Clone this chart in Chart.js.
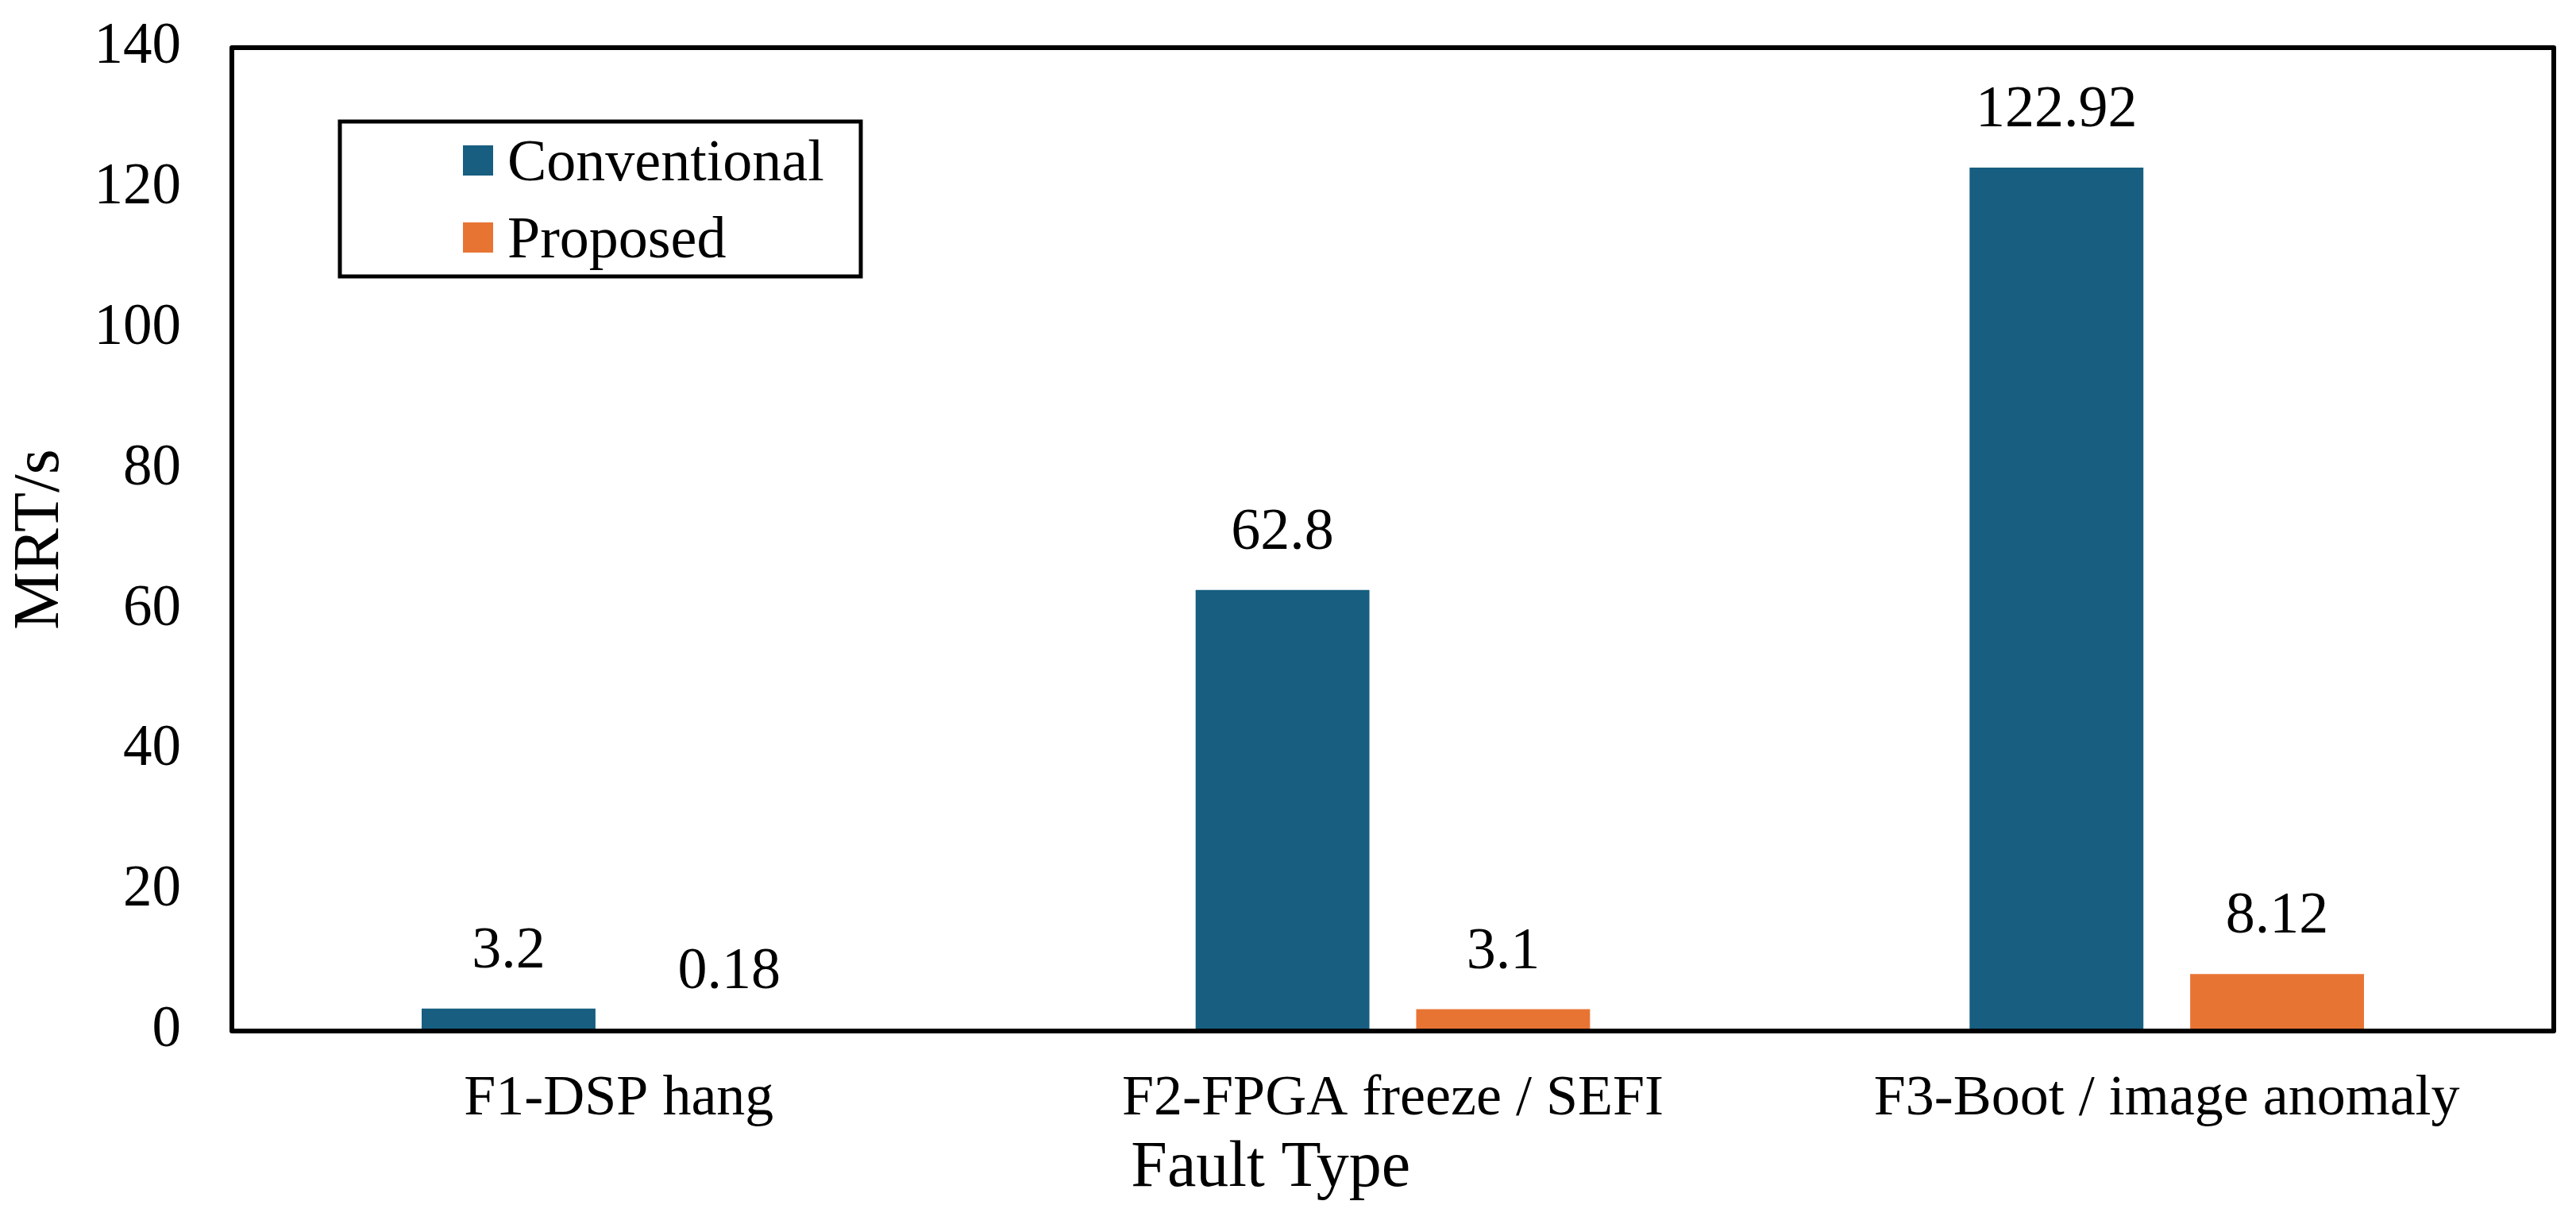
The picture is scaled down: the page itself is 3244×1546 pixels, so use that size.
<!DOCTYPE html>
<html>
<head>
<meta charset="utf-8">
<title>MRT by fault type</title>
<script src="https://cdn.jsdelivr.net/npm/chart.js@4.4.1/dist/chart.umd.min.js"></script>
<style>
  html, body { margin: 0; padding: 0; background: #fff; overflow: hidden; }
  #wrap { width: 3244px; height: 1546px; position: relative; }
</style>
</head>
<body>
<div id="wrap"><canvas id="mrtChart"></canvas></div>
<script>
// Datos
const faultTypes = ['F1-DSP hang', 'F2-FPGA freeze / SEFI', 'F3-Boot / image anomaly'];
const conventional = [3.2, 62.8, 122.92];
const proposed = [0.18, 3.1, 8.12];
const seriesNames = ['Conventional', 'Proposed'];
const yTicks = [0, 20, 40, 60, 80, 100, 120, 140];

const BLUE = '#175e80';
const ORANGE = '#e87434';
const FONT = "'Liberation Serif', 'Times New Roman', serif";

// Marco completo alrededor del área de trazado
const framePlugin = {
  id: 'frame',
  afterDraw(chart) {
    const { ctx, chartArea: a } = chart;
    ctx.save();
    ctx.strokeStyle = '#000';
    ctx.lineWidth = 6;
    ctx.lineJoin = 'round';
    ctx.strokeRect(a.left, a.top, a.right - a.left, a.bottom - a.top);
    ctx.restore();
  }
};

// Etiquetas de valor encima de cada barra
const valueLabels = {
  id: 'valueLabels',
  afterDatasetsDraw(chart) {
    const { ctx } = chart;
    ctx.save();
    ctx.font = `74px ${FONT}`;
    ctx.fillStyle = '#000';
    ctx.textAlign = 'center';
    ctx.textBaseline = 'alphabetic';
    chart.data.datasets.forEach((ds, i) => {
      chart.getDatasetMeta(i).data.forEach((bar, j) => {
        ctx.fillText(String(ds.data[j]), bar.x, bar.y - 52);
      });
    });
    ctx.restore();
  }
};

// Leyenda con recuadro dentro del área de trazado
const boxLegend = {
  id: 'boxLegend',
  afterDraw(chart) {
    const { ctx, chartArea: a } = chart;
    const left = a.left + 136;
    const top = a.top + 93;
    ctx.save();
    ctx.strokeStyle = '#000';
    ctx.lineWidth = 5;
    ctx.strokeRect(left, top, 656, 195);
    ctx.font = `74px ${FONT}`;
    ctx.textAlign = 'left';
    ctx.textBaseline = 'alphabetic';
    chart.data.datasets.forEach((ds, i) => {
      const cy = top + 49 + i * 97;
      ctx.fillStyle = ds.backgroundColor;
      ctx.fillRect(left + 155, cy - 19, 38, 38);
      ctx.fillStyle = '#000';
      ctx.fillText(ds.label, left + 211, cy + 25);
    });
    ctx.restore();
  }
};

const ctx = document.getElementById('mrtChart').getContext('2d');

const myChart = new Chart(ctx, {
  type: 'bar',
  data: {
    labels: faultTypes,
    datasets: [
      {
        label: seriesNames[0],
        data: conventional,
        backgroundColor: BLUE,
        categoryPercentage: 0.57,
        barPercentage: 0.788
      },
      {
        label: seriesNames[1],
        data: proposed,
        backgroundColor: ORANGE,
        categoryPercentage: 0.57,
        barPercentage: 0.788
      }
    ]
  },
  options: {
    responsive: true,
    maintainAspectRatio: false,
    animation: false,
    layout: { padding: { top: 60, right: 28, left: 0, bottom: 0 } },
    scales: {
      x: {
        grid: { display: false, drawTicks: false },
        border: { display: false },
        ticks: {
          color: '#000',
          padding: 43,
          maxRotation: 0,
          autoSkip: false,
          font: { family: FONT, size: 72 }
        },
        title: {
          display: true,
          // espacios al final para desplazar el título a la izquierda
          text: 'Fault Type               ',
          color: '#000',
          padding: { top: 0, bottom: 25 },
          font: { family: FONT, size: 82 }
        },
        afterFit(scale) { scale.height = 248; }
      },
      y: {
        min: 0,
        max: 140,
        afterBuildTicks(scale) {
          scale.ticks = yTicks.map(v => ({ value: v }));
        },
        // marcas invisibles para separar las etiquetas del eje
        grid: {
          display: true,
          drawOnChartArea: false,
          drawTicks: true,
          tickLength: 64,
          tickColor: 'rgba(0,0,0,0)'
        },
        border: { display: false },
        ticks: {
          color: '#000',
          padding: 0,
          font: { family: FONT, size: 73 }
        },
        title: {
          display: true,
          text: 'MRT/s',
          color: '#000',
          padding: { top: 2, bottom: 0 },
          font: { family: FONT, size: 82 }
        },
        afterFit(scale) { scale.width = 292; }
      }
    },
    plugins: {
      legend: { display: false },
      tooltip: { enabled: false }
    }
  },
  plugins: [valueLabels, framePlugin, boxLegend]
});
</script>
</body>
</html>
